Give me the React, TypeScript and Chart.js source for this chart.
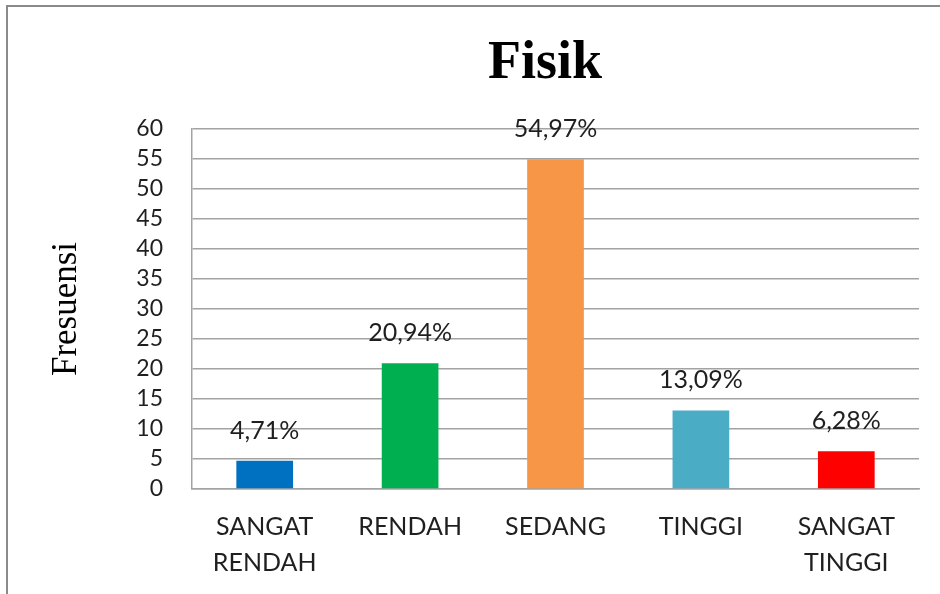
import React, { useEffect, useRef } from "react";
import { Chart, registerables } from "chart.js";

Chart.register(...registerables);

const categories: (string | string[])[] = [["SANGAT", "RENDAH"], "RENDAH", "SEDANG", "TINGGI", ["SANGAT", "TINGGI"]];
const values = [4.71, 20.94, 54.97, 13.09, 6.28];
const valueLabels = ["4,71%", "20,94%", "54,97%", "13,09%", "6,28%"];
const barColors = ["#0070C0", "#00B050", "#F79646", "#4BACC6", "#FF0000"];
const yMin = 0;
const yMax = 60;
const yStep = 5;
const chartTitle = "Fisik";
const yAxisTitle = "Fresuensi";

const TEXT = "#1f1f1f";
const GRID = "#a3a3a3";

const overlayPlugin = {
  id: "overlayText",
  afterDatasetsDraw(chart: any) {
    const ctx = chart.ctx;
    const meta = chart.getDatasetMeta(0);
    ctx.save();
    ctx.font = "25px Lato";
    ctx.fillStyle = TEXT;
    ctx.textAlign = "center";
    ctx.textBaseline = "alphabetic";
    meta.data.forEach((bar: any, i: number) => {
      ctx.fillText(valueLabels[i], bar.x, bar.y - 22);
    });
    ctx.font = "bold 54px 'Liberation Serif'";
    ctx.fillStyle = "#000";
    ctx.fillText(chartTitle, 545, 78);
    ctx.restore();
  },
};

export default function App() {
  const ref = useRef<HTMLCanvasElement | null>(null);

  useEffect(() => {
    if (!ref.current) return;
    const chart = new Chart(ref.current, {
      type: "bar",
      data: {
        labels: categories,
        datasets: [
          {
            data: values,
            backgroundColor: barColors,
            borderWidth: 0,
            barPercentage: 0.39,
            categoryPercentage: 1,
          },
        ],
      },
      options: {
        responsive: false,
        animation: false,
        devicePixelRatio: 1,
        layout: { padding: { top: 129, right: 21, bottom: 0, left: 0 } },
        plugins: {
          legend: { display: false },
          title: { display: false },
          tooltip: { enabled: false },
        },
        scales: {
          x: {
            grid: { display: false, drawTicks: false },
            border: { display: true, color: GRID, width: 1.5 },
            ticks: {
              color: TEXT,
              padding: 20,
              maxRotation: 0,
              autoSkip: false,
              font: { family: "Lato", size: 25, lineHeight: 1.45 },
            },
            afterFit(scale: any) {
              scale.height = 105;
            },
          },
          y: {
            min: yMin,
            max: yMax,
            grid: { color: GRID, lineWidth: 1.5, drawTicks: false },
            border: { display: true, color: GRID, width: 1.5 },
            ticks: {
              stepSize: yStep,
              autoSkip: false,
              color: TEXT,
              padding: 29,
              font: { family: "Lato", size: 23, lineHeight: 1 },
            },
            title: {
              display: true,
              text: yAxisTitle,
              color: "#000",
              padding: { top: 46, bottom: 0 },
              font: { family: "'Liberation Serif'", size: 35, lineHeight: 1.2 },
            },
            afterFit(scale: any) {
              scale.width = 192;
            },
          },
        },
      },
      plugins: [overlayPlugin],
    });
    return () => chart.destroy();
  }, []);

  return (
    <div style={{ position: "fixed", left: 0, top: 0, width: 940, height: 594, background: "#fff", overflow: "hidden" }}>
      <div
        style={{
          position: "absolute",
          left: 6,
          top: 5,
          width: 960,
          height: 620,
          borderLeft: "2px solid #8a8a8a",
          borderTop: "2px solid #8a8a8a",
        }}
      />
      <canvas ref={ref} width={940} height={594} style={{ position: "absolute", left: 0, top: 0 }} />
    </div>
  );
}
